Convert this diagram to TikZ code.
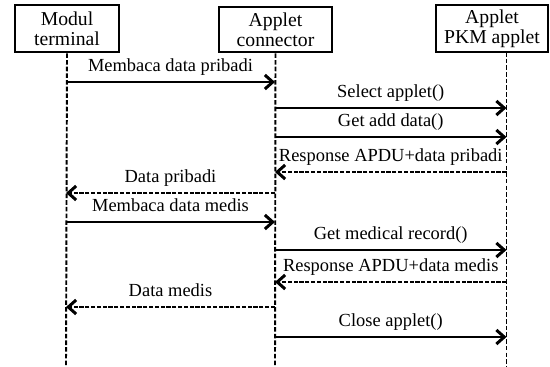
\documentclass[tikz,border=0pt]{standalone}
\usepackage{fontspec}
\setmainfont{Liberation Serif}
\usepackage{tikz}
\usetikzlibrary{arrows.meta, positioning}

\begin{document}
\begin{tikzpicture}[
    font=\fontsize{10.5}{11.4}\selectfont,
    obj/.style={draw, line width=1.5pt, align=center, inner sep=0pt, font=\fontsize{11.2}{11.6}\selectfont},
    lifeline/.style={line width=1.1pt, dash pattern=on 2.6pt off 1.2pt},
    call/.style={line width=1.2pt, -{Straight Barb[length=4.5pt,width=8pt,line width=1.7pt]}},
    reply/.style={call, line width=1pt, dash pattern=on 2.4pt off 0.9pt},
    lbl/.style={midway, above=5.5pt, inner sep=0pt, text depth=0pt}
  ]
    \useasboundingbox (0,0) rectangle (11,-7.32);

    \node[obj, minimum width=2.08cm, minimum height=0.94cm] (term) at (1.34,-0.57) {Modul\\terminal};
    \node[obj, minimum width=2.26cm, minimum height=0.90cm] (conn) at (5.51,-0.59) {Applet\\connector};
    \node[obj, minimum width=2.24cm, minimum height=0.94cm] (pkm) at (9.84,-0.57) {Applet\\PKM applet};

    \coordinate (tEnd) at (1.32,-7.32);
    \coordinate (cEnd) at (5.50,-7.32);
    \coordinate (pTop) at (10.13,-1.04);
    \coordinate (pEnd) at (10.13,-7.32);

    \draw[lifeline] (term.south) -- (tEnd);
    \draw[lifeline] (conn.south) -- (cEnd);
    \draw[lifeline] (pTop) -- (pEnd);

    \foreach \r/\y in {1/1.64, 2/2.16, 3/2.74, 4/3.44, 5/3.86, 6/4.44, 7/5.00, 8/5.64, 9/6.14, 10/6.74} {
      \coordinate (t\r) at (1.32,-\y);
      \coordinate (c\r) at (5.50,-\y);
      \coordinate (p\r) at (10.13,-\y);
    }

    \draw[call] (t1) -- node[lbl] {Membaca data pribadi} (c1);
    \draw[call] (c2) -- node[lbl] {Select applet()} (p2);
    \draw[call] (c3) -- node[lbl] {Get add data()} (p3);
    \draw[reply] (p4) -- node[lbl] {Response APDU+data pribadi} (c4);
    \draw[reply] (c5) -- node[lbl] {Data pribadi} (t5);
    \draw[call] (t6) -- node[lbl] {Membaca data medis} (c6);
    \draw[call] (c7) -- node[lbl] {Get medical record()} (p7);
    \draw[reply] (p8) -- node[lbl] {Response APDU+data medis} (c8);
    \draw[reply] (c9) -- node[lbl] {Data medis} (t9);
    \draw[call] (c10) -- node[lbl] {Close applet()} (p10);
\end{tikzpicture}
\end{document}
